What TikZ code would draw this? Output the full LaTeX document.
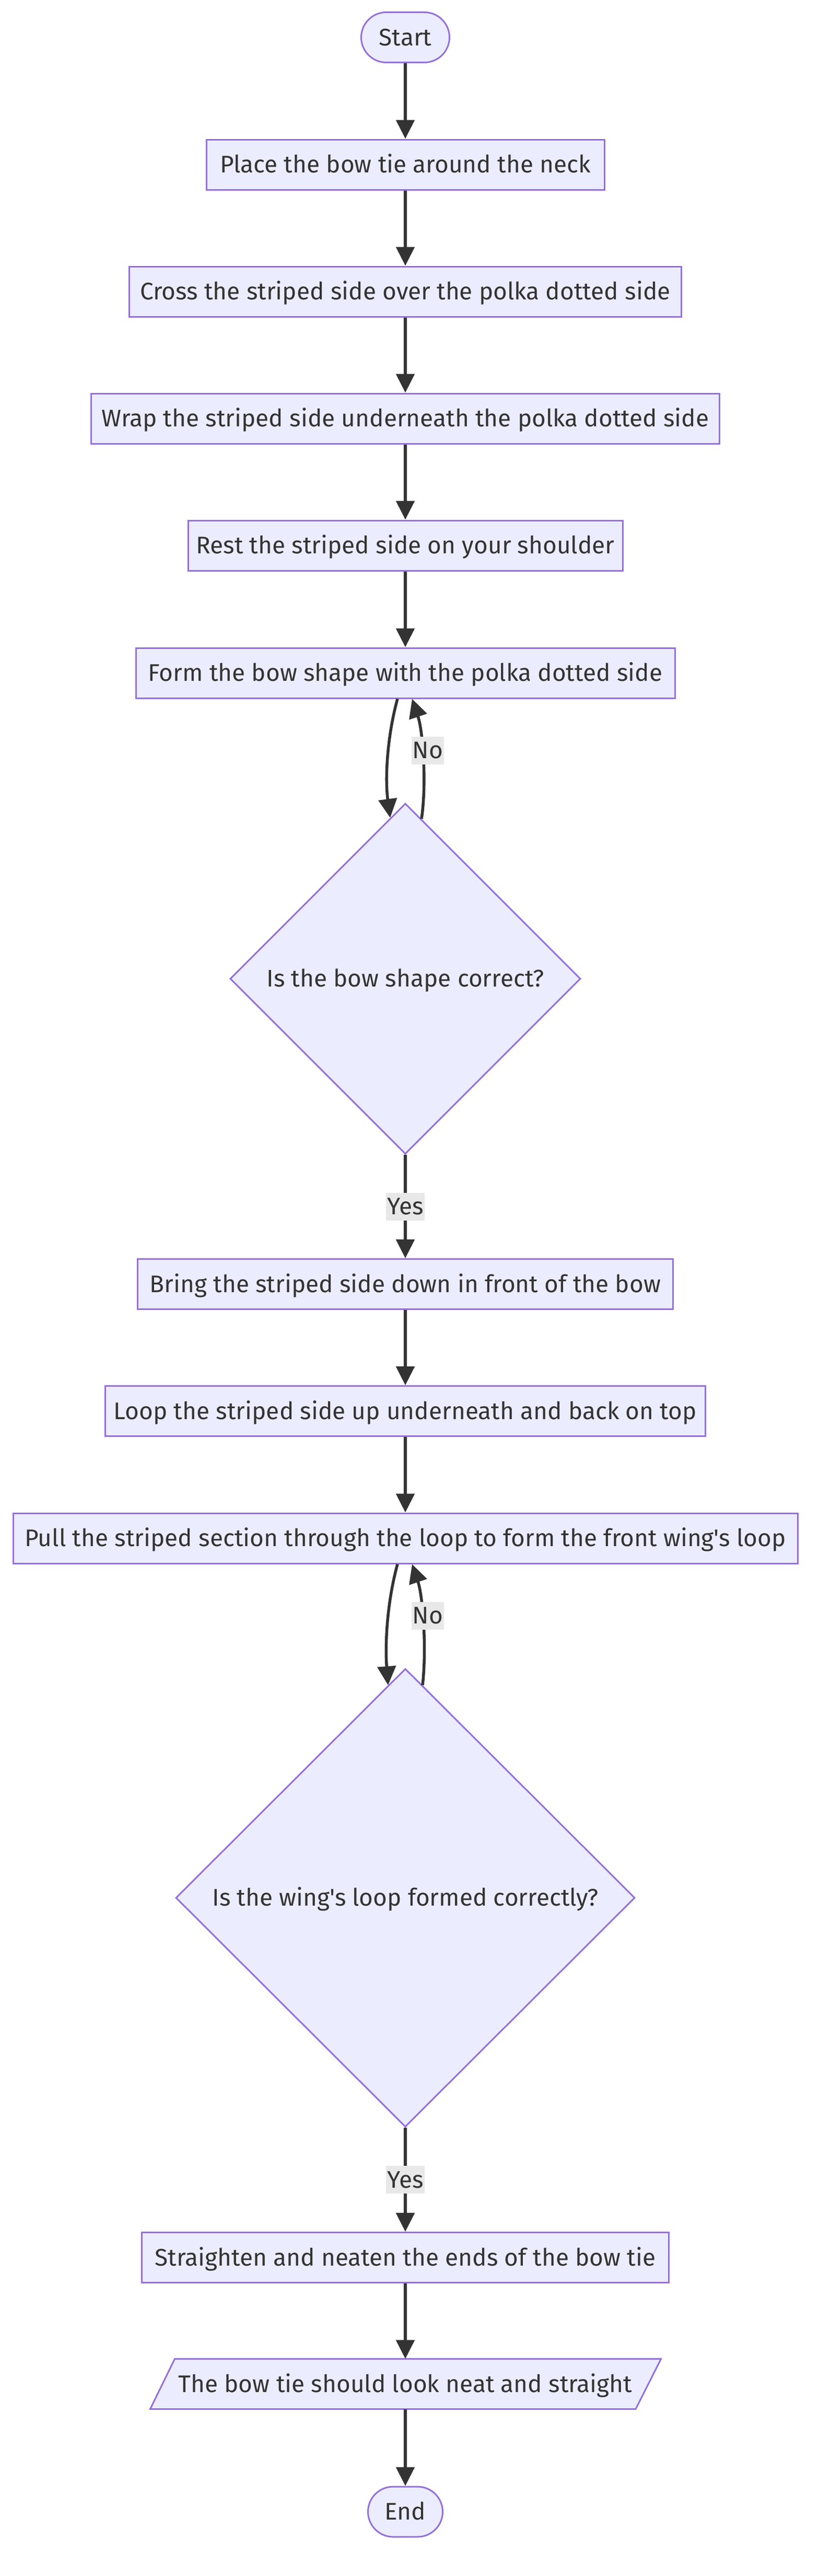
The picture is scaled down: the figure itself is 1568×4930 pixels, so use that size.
\documentclass[tikz,border=0pt]{standalone}
\usepackage{fontspec}
\newfontfamily\figfont{Fira Sans}
\usetikzlibrary{arrows.meta,shapes.geometric,calc}
\definecolor{nodefill}{HTML}{ECECFF}
\definecolor{nodeline}{HTML}{9370DB}
\definecolor{ink}{HTML}{333333}
\definecolor{lblbg}{HTML}{E8E8E8}
\newcommand\figstrut{\rule[-10.7pt]{0pt}{53pt}}
\newcommand\figsize{\figfont\fontsize{46}{56}\selectfont}
\tikzset{
  basenode/.style={fill=nodefill, draw=nodeline, line width=3pt, text=ink, inner sep=0pt,
    font=\figsize, execute at begin node=\figstrut},
  stepbox/.style={basenode, rectangle, minimum height=96pt},
  terminal/.style={basenode, rectangle, rounded corners=48pt, minimum height=96pt},
  decision/.style={basenode, diamond, aspect=1},
  flow/.style={draw=ink, line width=5.5pt, -{Triangle[length=36pt,width=35pt]}},
  elabel/.style={fill=lblbg, text=ink, inner xsep=2pt, inner ysep=0pt,
    font=\figsize, execute at begin node=\figstrut},
}
\begin{document}
\begin{tikzpicture}[x=1pt,y=-1pt]
\useasboundingbox (0,0) rectangle (1568,4930);
\fill[white] (0,0) rectangle (1568,4930);

\node[terminal, minimum width=169pt] (start) at (776,71.5) {Start};
\node[stepbox, minimum width=762pt] (place) at (776,315) {Place the bow tie around the neck};
\node[stepbox, minimum width=1057pt] (cross) at (776,558) {Cross the striped side over the polka dotted side};
\node[stepbox, minimum width=1203pt] (wrap) at (776,801) {Wrap the striped side underneath the polka dotted side};
\node[stepbox, minimum width=832pt] (rest) at (776,1044) {Rest the striped side on your shoulder};
\node[stepbox, minimum width=1032pt] (form) at (776,1288) {Form the bow shape with the polka dotted side};
\node[decision, minimum width=671pt, minimum height=671pt] (d1) at (776,1873) {Is the bow shape correct?};
\node[stepbox, minimum width=1025pt] (bring) at (776,2457.5) {Bring the striped side down in front of the bow};
\node[stepbox, minimum width=1149pt] (loop) at (776,2700.5) {Loop the striped side up underneath and back on top};
\node[stepbox, minimum width=1502pt] (pull) at (776,2944) {Pull the striped section through the loop to form the front wing's loop};
\node[decision, minimum width=879pt, minimum height=877pt] (d2) at (776,3632) {Is the wing's loop formed correctly?};
\node[stepbox, minimum width=1009pt] (straight) at (776,4320.5) {Straighten and neaten the ends of the bow tie};
\draw[fill=nodefill, draw=nodeline, line width=3pt] (287.5,4610.5) -- (1217,4610.5) -- (1265.5,4514.5) -- (334.5,4514.5) -- cycle;
\node[text=ink, inner sep=0pt, minimum width=930pt, minimum height=96pt,
  font=\figsize, execute at begin node=\figstrut] (para) at (776,4562.5) {The bow tie should look neat and straight};
\node[terminal, minimum width=143pt] (end) at (776,4807) {End};

\draw[flow] (start) -- (place);
\draw[flow] (place) -- (cross);
\draw[flow] (cross) -- (wrap);
\draw[flow] (wrap) -- (rest);
\draw[flow] (rest) -- (form);

\draw[flow] ($(form.south)+(-15,0)$) .. controls ($(form.south)+(-35,72.5)$) and ($(d1.north)+(-39,-46)$) .. ($(d1.north)+(-29,29)$);
\draw[flow] ($(d1.north)+(31,31)$) .. controls ($(d1.north)+(41,-36)$) and ($(form.south)+(34,62.5)$) .. ($(form.south)+(13,0)$);
\node[elabel] (no1) at ($(form.south)+(43,98.5)$) {No};

\draw[flow] (d1.south) -- node[elabel] (yes1) {Yes} (bring.north);
\draw[flow] (bring) -- (loop);
\draw[flow] (loop) -- (pull);

\draw[flow] ($(pull.south)+(-15,0)$) .. controls ($(pull.south)+(-35,72.5)$) and ($(d2.north)+(-39,-46)$) .. ($(d2.north)+(-33,33)$);
\draw[flow] ($(d2.north)+(33,33)$) .. controls ($(d2.north)+(41,-36)$) and ($(pull.south)+(34,62.5)$) .. ($(pull.south)+(13,0)$);
\node[elabel] (no2) at ($(pull.south)+(43,98.5)$) {No};

\draw[flow] (d2.south) -- node[elabel] (yes2) {Yes} (straight.north);
\draw[flow] (straight) -- (para.north);
\draw[flow] (para.south) -- (end);
\end{tikzpicture}
\end{document}
